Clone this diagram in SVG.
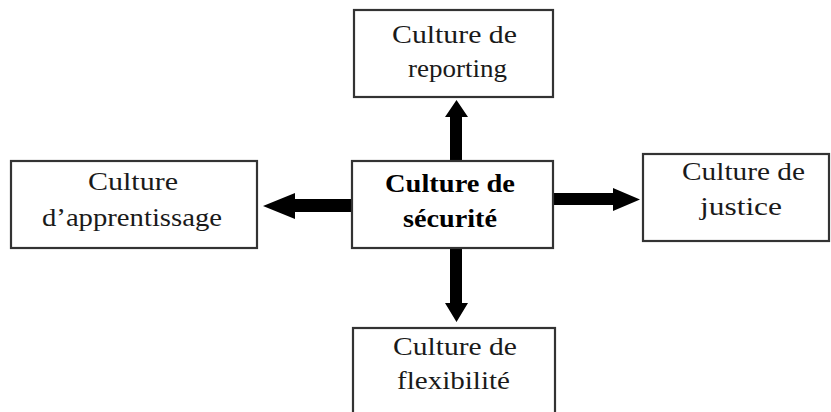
<svg xmlns="http://www.w3.org/2000/svg" width="831" height="412" viewBox="0 0 831 412">
<style>
.box{fill:#fff;stroke:#333;stroke-width:2.2}
text{font-family:"Liberation Serif","Times New Roman",serif;font-size:25px;fill:#1a1a1a}
.b{font-weight:bold;fill:#000}
.arr{fill:#000}
</style>
<rect width="831" height="412" fill="#fff"/>
<g id="connectors">
<polygon class="arr" points="450,161 450,117 445,117 456.5,100 468,117 462,117 462,161"/>
<polygon class="arr" points="450,248 450,303 445,303 456.5,322 468,303 462,303 462,248"/>
<polygon class="arr" points="352,199 295,199 295,193 263,206 295,219 295,212 352,212"/>
<polygon class="arr" points="553,193 613,193 613,188 640,199.5 613,211 613,205 553,205"/>
</g>
<g id="reporting">
<rect class="box" x="354" y="10" width="199" height="87"/>
<text x="392" y="43" textLength="125" lengthAdjust="spacingAndGlyphs">Culture de</text>
<text x="408" y="77" textLength="99" lengthAdjust="spacingAndGlyphs">reporting</text>
</g>
<g id="securite">
<rect class="box" x="352" y="161" width="201" height="87"/>
<text class="b" x="385" y="192" textLength="130" lengthAdjust="spacingAndGlyphs">Culture de</text>
<text class="b" x="403" y="227" textLength="94" lengthAdjust="spacingAndGlyphs">sécurité</text>
</g>
<g id="apprentissage">
<rect class="box" x="11" y="161" width="246" height="87"/>
<text x="88" y="190" textLength="90" lengthAdjust="spacingAndGlyphs">Culture</text>
<text x="42" y="226" textLength="180" lengthAdjust="spacingAndGlyphs">d’apprentissage</text>
</g>
<g id="justice">
<rect class="box" x="643" y="154" width="186" height="87"/>
<text x="682" y="180" textLength="123" lengthAdjust="spacingAndGlyphs">Culture de</text>
<text x="700" y="215" textLength="82" lengthAdjust="spacingAndGlyphs">justice</text>
</g>
<g id="flexibilite">
<rect class="box" x="353" y="328" width="202" height="100"/>
<text x="393" y="355" textLength="124" lengthAdjust="spacingAndGlyphs">Culture de</text>
<text x="397" y="389" textLength="113" lengthAdjust="spacingAndGlyphs">flexibilité</text>
</g>
</svg>
